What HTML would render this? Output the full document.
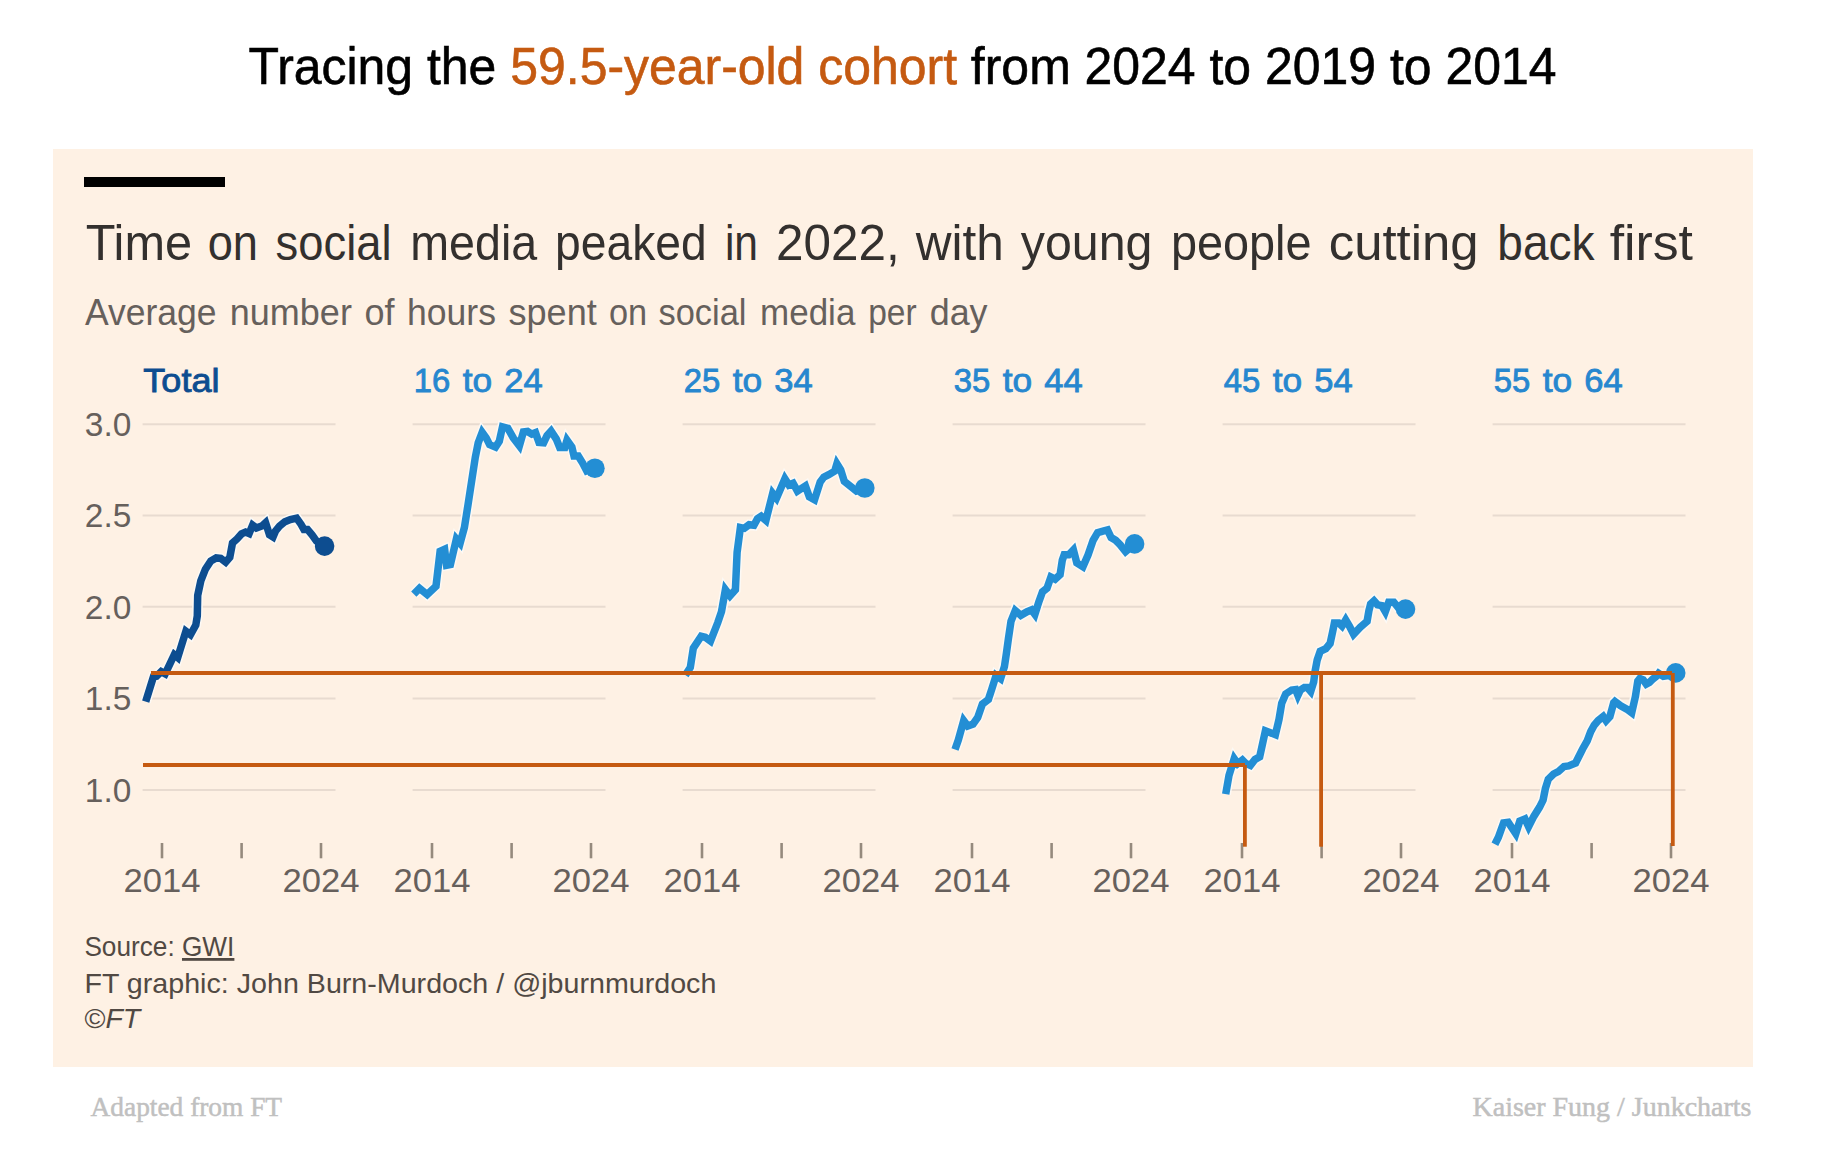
<!DOCTYPE html>
<html><head><meta charset="utf-8"><title>Tracing the 59.5-year-old cohort</title>
<style>html,body{margin:0;padding:0;background:#fff;width:1836px;height:1162px;overflow:hidden}svg{display:block}</style>
</head><body>
<svg width="1836" height="1162" viewBox="0 0 1836 1162">
<rect x="0" y="0" width="1836" height="1162" fill="#ffffff"/>
<text x="248.5" y="84" font-family='"Liberation Sans", sans-serif' font-size="52" fill="#000" stroke="#000" stroke-width="0.6" textLength="1308" lengthAdjust="spacingAndGlyphs">Tracing the <tspan fill="#c55a11" stroke="#c55a11">59.5-year-old cohort</tspan> from 2024 to 2019 to 2014</text>
<rect x="53" y="149" width="1700" height="918" fill="#fef1e4"/>
<rect x="84" y="177" width="141" height="10" fill="#000"/>
<text x="85.7" y="260" font-family='"Liberation Sans", sans-serif' font-size="50" fill="#33302e" font-weight="normal" font-style="normal" text-anchor="start" textLength="106.4" lengthAdjust="spacingAndGlyphs">Time</text>
<text x="207.7" y="260" font-family='"Liberation Sans", sans-serif' font-size="50" fill="#33302e" font-weight="normal" font-style="normal" text-anchor="start" textLength="50.31" lengthAdjust="spacingAndGlyphs">on</text>
<text x="275.6" y="260" font-family='"Liberation Sans", sans-serif' font-size="50" fill="#33302e" font-weight="normal" font-style="normal" text-anchor="start" textLength="115.98" lengthAdjust="spacingAndGlyphs">social</text>
<text x="410.3" y="260" font-family='"Liberation Sans", sans-serif' font-size="50" fill="#33302e" font-weight="normal" font-style="normal" text-anchor="start" textLength="126.94" lengthAdjust="spacingAndGlyphs">media</text>
<text x="555.1" y="260" font-family='"Liberation Sans", sans-serif' font-size="50" fill="#33302e" font-weight="normal" font-style="normal" text-anchor="start" textLength="151.49" lengthAdjust="spacingAndGlyphs">peaked</text>
<text x="724.9" y="260" font-family='"Liberation Sans", sans-serif' font-size="50" fill="#33302e" font-weight="normal" font-style="normal" text-anchor="start" textLength="33.11" lengthAdjust="spacingAndGlyphs">in</text>
<text x="776.0" y="260" font-family='"Liberation Sans", sans-serif' font-size="50" fill="#33302e" font-weight="normal" font-style="normal" text-anchor="start" textLength="123.62" lengthAdjust="spacingAndGlyphs">2022,</text>
<text x="915.7" y="260" font-family='"Liberation Sans", sans-serif' font-size="50" fill="#33302e" font-weight="normal" font-style="normal" text-anchor="start" textLength="88.02" lengthAdjust="spacingAndGlyphs">with</text>
<text x="1020.8" y="260" font-family='"Liberation Sans", sans-serif' font-size="50" fill="#33302e" font-weight="normal" font-style="normal" text-anchor="start" textLength="131.58" lengthAdjust="spacingAndGlyphs">young</text>
<text x="1170.9" y="260" font-family='"Liberation Sans", sans-serif' font-size="50" fill="#33302e" font-weight="normal" font-style="normal" text-anchor="start" textLength="140.7" lengthAdjust="spacingAndGlyphs">people</text>
<text x="1328.7" y="260" font-family='"Liberation Sans", sans-serif' font-size="50" fill="#33302e" font-weight="normal" font-style="normal" text-anchor="start" textLength="149.92" lengthAdjust="spacingAndGlyphs">cutting</text>
<text x="1497.3" y="260" font-family='"Liberation Sans", sans-serif' font-size="50" fill="#33302e" font-weight="normal" font-style="normal" text-anchor="start" textLength="97.22" lengthAdjust="spacingAndGlyphs">back</text>
<text x="1609.7" y="260" font-family='"Liberation Sans", sans-serif' font-size="50" fill="#33302e" font-weight="normal" font-style="normal" text-anchor="start" textLength="83.29" lengthAdjust="spacingAndGlyphs">first</text>
<text x="85.0" y="324.5" font-family='"Liberation Sans", sans-serif' font-size="36.5" fill="#66605c" font-weight="normal" font-style="normal" text-anchor="start" textLength="131.59" lengthAdjust="spacingAndGlyphs">Average</text>
<text x="229.8" y="324.5" font-family='"Liberation Sans", sans-serif' font-size="36.5" fill="#66605c" font-weight="normal" font-style="normal" text-anchor="start" textLength="122.09" lengthAdjust="spacingAndGlyphs">number</text>
<text x="364.4" y="324.5" font-family='"Liberation Sans", sans-serif' font-size="36.5" fill="#66605c" font-weight="normal" font-style="normal" text-anchor="start" textLength="30.03" lengthAdjust="spacingAndGlyphs">of</text>
<text x="407.0" y="324.5" font-family='"Liberation Sans", sans-serif' font-size="36.5" fill="#66605c" font-weight="normal" font-style="normal" text-anchor="start" textLength="88.92" lengthAdjust="spacingAndGlyphs">hours</text>
<text x="508.5" y="324.5" font-family='"Liberation Sans", sans-serif' font-size="36.5" fill="#66605c" font-weight="normal" font-style="normal" text-anchor="start" textLength="88.21" lengthAdjust="spacingAndGlyphs">spent</text>
<text x="608.9" y="324.5" font-family='"Liberation Sans", sans-serif' font-size="36.5" fill="#66605c" font-weight="normal" font-style="normal" text-anchor="start" textLength="38.21" lengthAdjust="spacingAndGlyphs">on</text>
<text x="658.5" y="324.5" font-family='"Liberation Sans", sans-serif' font-size="36.5" fill="#66605c" font-weight="normal" font-style="normal" text-anchor="start" textLength="87.99" lengthAdjust="spacingAndGlyphs">social</text>
<text x="760.1" y="324.5" font-family='"Liberation Sans", sans-serif' font-size="36.5" fill="#66605c" font-weight="normal" font-style="normal" text-anchor="start" textLength="95.25" lengthAdjust="spacingAndGlyphs">media</text>
<text x="868.2" y="324.5" font-family='"Liberation Sans", sans-serif' font-size="36.5" fill="#66605c" font-weight="normal" font-style="normal" text-anchor="start" textLength="48.51" lengthAdjust="spacingAndGlyphs">per</text>
<text x="929.7" y="324.5" font-family='"Liberation Sans", sans-serif' font-size="36.5" fill="#66605c" font-weight="normal" font-style="normal" text-anchor="start" textLength="57.81" lengthAdjust="spacingAndGlyphs">day</text>
<text x="143.3" y="392.3" font-family='"Liberation Sans", sans-serif' font-size="34" fill="#0d4d90" font-weight="normal" font-style="normal" text-anchor="start" textLength="76.21" lengthAdjust="spacingAndGlyphs" stroke="#0d4d90" stroke-width="0.85">Total</text>
<line x1="142.6" y1="424.2" x2="335.5" y2="424.2" stroke="#e8dbd0" stroke-width="2"/>
<line x1="142.6" y1="515.4" x2="335.5" y2="515.4" stroke="#e8dbd0" stroke-width="2"/>
<line x1="142.6" y1="606.8" x2="335.5" y2="606.8" stroke="#e8dbd0" stroke-width="2"/>
<line x1="142.6" y1="698.5" x2="335.5" y2="698.5" stroke="#e8dbd0" stroke-width="2"/>
<line x1="142.6" y1="789.9" x2="335.5" y2="789.9" stroke="#e8dbd0" stroke-width="2"/>
<line x1="162" y1="843" x2="162" y2="858.3" stroke="#958a7d" stroke-width="2.6"/>
<line x1="241.6" y1="843" x2="241.6" y2="858.3" stroke="#958a7d" stroke-width="2.6"/>
<line x1="321" y1="843" x2="321" y2="858.3" stroke="#958a7d" stroke-width="2.6"/>
<text x="162" y="892" font-family='"Liberation Sans", sans-serif' font-size="33" fill="#66605c" font-weight="normal" font-style="normal" text-anchor="middle" textLength="77" lengthAdjust="spacingAndGlyphs">2014</text>
<text x="321" y="892" font-family='"Liberation Sans", sans-serif' font-size="33" fill="#66605c" font-weight="normal" font-style="normal" text-anchor="middle" textLength="77" lengthAdjust="spacingAndGlyphs">2024</text>
<text x="413.8" y="392.3" font-family='"Liberation Sans", sans-serif' font-size="34" fill="#2787cf" font-weight="normal" font-style="normal" text-anchor="start" textLength="36.51" lengthAdjust="spacingAndGlyphs" stroke="#2787cf" stroke-width="0.85">16</text>
<text x="462.8" y="392.3" font-family='"Liberation Sans", sans-serif' font-size="34" fill="#2787cf" font-weight="normal" font-style="normal" text-anchor="start" textLength="29.4" lengthAdjust="spacingAndGlyphs" stroke="#2787cf" stroke-width="0.85">to</text>
<text x="504.2" y="392.3" font-family='"Liberation Sans", sans-serif' font-size="34" fill="#2787cf" font-weight="normal" font-style="normal" text-anchor="start" textLength="38.41" lengthAdjust="spacingAndGlyphs" stroke="#2787cf" stroke-width="0.85">24</text>
<line x1="412.6" y1="424.2" x2="605.5" y2="424.2" stroke="#e8dbd0" stroke-width="2"/>
<line x1="412.6" y1="515.4" x2="605.5" y2="515.4" stroke="#e8dbd0" stroke-width="2"/>
<line x1="412.6" y1="606.8" x2="605.5" y2="606.8" stroke="#e8dbd0" stroke-width="2"/>
<line x1="412.6" y1="698.5" x2="605.5" y2="698.5" stroke="#e8dbd0" stroke-width="2"/>
<line x1="412.6" y1="789.9" x2="605.5" y2="789.9" stroke="#e8dbd0" stroke-width="2"/>
<line x1="432" y1="843" x2="432" y2="858.3" stroke="#958a7d" stroke-width="2.6"/>
<line x1="511.6" y1="843" x2="511.6" y2="858.3" stroke="#958a7d" stroke-width="2.6"/>
<line x1="591" y1="843" x2="591" y2="858.3" stroke="#958a7d" stroke-width="2.6"/>
<text x="432" y="892" font-family='"Liberation Sans", sans-serif' font-size="33" fill="#66605c" font-weight="normal" font-style="normal" text-anchor="middle" textLength="77" lengthAdjust="spacingAndGlyphs">2014</text>
<text x="591" y="892" font-family='"Liberation Sans", sans-serif' font-size="33" fill="#66605c" font-weight="normal" font-style="normal" text-anchor="middle" textLength="77" lengthAdjust="spacingAndGlyphs">2024</text>
<text x="683.8" y="392.3" font-family='"Liberation Sans", sans-serif' font-size="34" fill="#2787cf" font-weight="normal" font-style="normal" text-anchor="start" textLength="36.51" lengthAdjust="spacingAndGlyphs" stroke="#2787cf" stroke-width="0.85">25</text>
<text x="732.8" y="392.3" font-family='"Liberation Sans", sans-serif' font-size="34" fill="#2787cf" font-weight="normal" font-style="normal" text-anchor="start" textLength="29.4" lengthAdjust="spacingAndGlyphs" stroke="#2787cf" stroke-width="0.85">to</text>
<text x="774.2" y="392.3" font-family='"Liberation Sans", sans-serif' font-size="34" fill="#2787cf" font-weight="normal" font-style="normal" text-anchor="start" textLength="38.41" lengthAdjust="spacingAndGlyphs" stroke="#2787cf" stroke-width="0.85">34</text>
<line x1="682.6" y1="424.2" x2="875.5" y2="424.2" stroke="#e8dbd0" stroke-width="2"/>
<line x1="682.6" y1="515.4" x2="875.5" y2="515.4" stroke="#e8dbd0" stroke-width="2"/>
<line x1="682.6" y1="606.8" x2="875.5" y2="606.8" stroke="#e8dbd0" stroke-width="2"/>
<line x1="682.6" y1="698.5" x2="875.5" y2="698.5" stroke="#e8dbd0" stroke-width="2"/>
<line x1="682.6" y1="789.9" x2="875.5" y2="789.9" stroke="#e8dbd0" stroke-width="2"/>
<line x1="702" y1="843" x2="702" y2="858.3" stroke="#958a7d" stroke-width="2.6"/>
<line x1="781.6" y1="843" x2="781.6" y2="858.3" stroke="#958a7d" stroke-width="2.6"/>
<line x1="861" y1="843" x2="861" y2="858.3" stroke="#958a7d" stroke-width="2.6"/>
<text x="702" y="892" font-family='"Liberation Sans", sans-serif' font-size="33" fill="#66605c" font-weight="normal" font-style="normal" text-anchor="middle" textLength="77" lengthAdjust="spacingAndGlyphs">2014</text>
<text x="861" y="892" font-family='"Liberation Sans", sans-serif' font-size="33" fill="#66605c" font-weight="normal" font-style="normal" text-anchor="middle" textLength="77" lengthAdjust="spacingAndGlyphs">2024</text>
<text x="953.8" y="392.3" font-family='"Liberation Sans", sans-serif' font-size="34" fill="#2787cf" font-weight="normal" font-style="normal" text-anchor="start" textLength="36.51" lengthAdjust="spacingAndGlyphs" stroke="#2787cf" stroke-width="0.85">35</text>
<text x="1002.8" y="392.3" font-family='"Liberation Sans", sans-serif' font-size="34" fill="#2787cf" font-weight="normal" font-style="normal" text-anchor="start" textLength="29.4" lengthAdjust="spacingAndGlyphs" stroke="#2787cf" stroke-width="0.85">to</text>
<text x="1044.2" y="392.3" font-family='"Liberation Sans", sans-serif' font-size="34" fill="#2787cf" font-weight="normal" font-style="normal" text-anchor="start" textLength="38.41" lengthAdjust="spacingAndGlyphs" stroke="#2787cf" stroke-width="0.85">44</text>
<line x1="952.6" y1="424.2" x2="1145.5" y2="424.2" stroke="#e8dbd0" stroke-width="2"/>
<line x1="952.6" y1="515.4" x2="1145.5" y2="515.4" stroke="#e8dbd0" stroke-width="2"/>
<line x1="952.6" y1="606.8" x2="1145.5" y2="606.8" stroke="#e8dbd0" stroke-width="2"/>
<line x1="952.6" y1="698.5" x2="1145.5" y2="698.5" stroke="#e8dbd0" stroke-width="2"/>
<line x1="952.6" y1="789.9" x2="1145.5" y2="789.9" stroke="#e8dbd0" stroke-width="2"/>
<line x1="972" y1="843" x2="972" y2="858.3" stroke="#958a7d" stroke-width="2.6"/>
<line x1="1051.6" y1="843" x2="1051.6" y2="858.3" stroke="#958a7d" stroke-width="2.6"/>
<line x1="1131" y1="843" x2="1131" y2="858.3" stroke="#958a7d" stroke-width="2.6"/>
<text x="972" y="892" font-family='"Liberation Sans", sans-serif' font-size="33" fill="#66605c" font-weight="normal" font-style="normal" text-anchor="middle" textLength="77" lengthAdjust="spacingAndGlyphs">2014</text>
<text x="1131" y="892" font-family='"Liberation Sans", sans-serif' font-size="33" fill="#66605c" font-weight="normal" font-style="normal" text-anchor="middle" textLength="77" lengthAdjust="spacingAndGlyphs">2024</text>
<text x="1223.8" y="392.3" font-family='"Liberation Sans", sans-serif' font-size="34" fill="#2787cf" font-weight="normal" font-style="normal" text-anchor="start" textLength="36.51" lengthAdjust="spacingAndGlyphs" stroke="#2787cf" stroke-width="0.85">45</text>
<text x="1272.8" y="392.3" font-family='"Liberation Sans", sans-serif' font-size="34" fill="#2787cf" font-weight="normal" font-style="normal" text-anchor="start" textLength="29.4" lengthAdjust="spacingAndGlyphs" stroke="#2787cf" stroke-width="0.85">to</text>
<text x="1314.2" y="392.3" font-family='"Liberation Sans", sans-serif' font-size="34" fill="#2787cf" font-weight="normal" font-style="normal" text-anchor="start" textLength="38.41" lengthAdjust="spacingAndGlyphs" stroke="#2787cf" stroke-width="0.85">54</text>
<line x1="1222.6" y1="424.2" x2="1415.5" y2="424.2" stroke="#e8dbd0" stroke-width="2"/>
<line x1="1222.6" y1="515.4" x2="1415.5" y2="515.4" stroke="#e8dbd0" stroke-width="2"/>
<line x1="1222.6" y1="606.8" x2="1415.5" y2="606.8" stroke="#e8dbd0" stroke-width="2"/>
<line x1="1222.6" y1="698.5" x2="1415.5" y2="698.5" stroke="#e8dbd0" stroke-width="2"/>
<line x1="1222.6" y1="789.9" x2="1415.5" y2="789.9" stroke="#e8dbd0" stroke-width="2"/>
<line x1="1242" y1="843" x2="1242" y2="858.3" stroke="#958a7d" stroke-width="2.6"/>
<line x1="1321.6" y1="843" x2="1321.6" y2="858.3" stroke="#958a7d" stroke-width="2.6"/>
<line x1="1401" y1="843" x2="1401" y2="858.3" stroke="#958a7d" stroke-width="2.6"/>
<text x="1242" y="892" font-family='"Liberation Sans", sans-serif' font-size="33" fill="#66605c" font-weight="normal" font-style="normal" text-anchor="middle" textLength="77" lengthAdjust="spacingAndGlyphs">2014</text>
<text x="1401" y="892" font-family='"Liberation Sans", sans-serif' font-size="33" fill="#66605c" font-weight="normal" font-style="normal" text-anchor="middle" textLength="77" lengthAdjust="spacingAndGlyphs">2024</text>
<text x="1493.8" y="392.3" font-family='"Liberation Sans", sans-serif' font-size="34" fill="#2787cf" font-weight="normal" font-style="normal" text-anchor="start" textLength="36.51" lengthAdjust="spacingAndGlyphs" stroke="#2787cf" stroke-width="0.85">55</text>
<text x="1542.8" y="392.3" font-family='"Liberation Sans", sans-serif' font-size="34" fill="#2787cf" font-weight="normal" font-style="normal" text-anchor="start" textLength="29.4" lengthAdjust="spacingAndGlyphs" stroke="#2787cf" stroke-width="0.85">to</text>
<text x="1584.2" y="392.3" font-family='"Liberation Sans", sans-serif' font-size="34" fill="#2787cf" font-weight="normal" font-style="normal" text-anchor="start" textLength="38.41" lengthAdjust="spacingAndGlyphs" stroke="#2787cf" stroke-width="0.85">64</text>
<line x1="1492.6" y1="424.2" x2="1685.5" y2="424.2" stroke="#e8dbd0" stroke-width="2"/>
<line x1="1492.6" y1="515.4" x2="1685.5" y2="515.4" stroke="#e8dbd0" stroke-width="2"/>
<line x1="1492.6" y1="606.8" x2="1685.5" y2="606.8" stroke="#e8dbd0" stroke-width="2"/>
<line x1="1492.6" y1="698.5" x2="1685.5" y2="698.5" stroke="#e8dbd0" stroke-width="2"/>
<line x1="1492.6" y1="789.9" x2="1685.5" y2="789.9" stroke="#e8dbd0" stroke-width="2"/>
<line x1="1512" y1="843" x2="1512" y2="858.3" stroke="#958a7d" stroke-width="2.6"/>
<line x1="1591.6" y1="843" x2="1591.6" y2="858.3" stroke="#958a7d" stroke-width="2.6"/>
<line x1="1671" y1="843" x2="1671" y2="858.3" stroke="#958a7d" stroke-width="2.6"/>
<text x="1512" y="892" font-family='"Liberation Sans", sans-serif' font-size="33" fill="#66605c" font-weight="normal" font-style="normal" text-anchor="middle" textLength="77" lengthAdjust="spacingAndGlyphs">2014</text>
<text x="1671" y="892" font-family='"Liberation Sans", sans-serif' font-size="33" fill="#66605c" font-weight="normal" font-style="normal" text-anchor="middle" textLength="77" lengthAdjust="spacingAndGlyphs">2024</text>
<text x="84.8" y="436.0" font-family='"Liberation Sans", sans-serif' font-size="33" fill="#66605c" font-weight="normal" font-style="normal" text-anchor="start" textLength="46.5" lengthAdjust="spacingAndGlyphs">3.0</text>
<text x="84.8" y="527.1999999999999" font-family='"Liberation Sans", sans-serif' font-size="33" fill="#66605c" font-weight="normal" font-style="normal" text-anchor="start" textLength="46.5" lengthAdjust="spacingAndGlyphs">2.5</text>
<text x="84.8" y="618.5999999999999" font-family='"Liberation Sans", sans-serif' font-size="33" fill="#66605c" font-weight="normal" font-style="normal" text-anchor="start" textLength="46.5" lengthAdjust="spacingAndGlyphs">2.0</text>
<text x="84.8" y="710.3" font-family='"Liberation Sans", sans-serif' font-size="33" fill="#66605c" font-weight="normal" font-style="normal" text-anchor="start" textLength="46.5" lengthAdjust="spacingAndGlyphs">1.5</text>
<text x="84.8" y="801.6999999999999" font-family='"Liberation Sans", sans-serif' font-size="33" fill="#66605c" font-weight="normal" font-style="normal" text-anchor="start" textLength="46.5" lengthAdjust="spacingAndGlyphs">1.0</text>
<polyline points="145.7,701.6 153.4,676.8 156.5,676.3 161.2,671.6 165.2,673.8 174.3,654.7 177.7,657.5 185.9,631.2 190.5,634.7 195.8,625.1 197.3,615.8 197.7,595.4 200.8,580.9 205.4,569.2 210.8,561.0 216.2,557.9 220.7,558.3 225.7,562.2 229.8,557.4 232.5,543.0 237.0,538.9 241.5,533.9 245.6,532.1 249.1,533.6 252.6,525.1 256.4,528.0 262.3,525.8 265.6,522.7 269.5,534.8 273.0,537.0 275.4,531.2 279.5,526.2 284.9,521.7 290.3,519.5 296.6,518.1 301.1,524.4 303.9,529.4 307.5,529.4 312.0,534.8 316.5,541.1 323.7,546.1" fill="none" stroke="#fcf9f5" stroke-width="10.5" stroke-linejoin="miter" stroke-miterlimit="10" stroke-linecap="butt"/>
<polyline points="145.7,701.6 153.4,676.8 156.5,676.3 161.2,671.6 165.2,673.8 174.3,654.7 177.7,657.5 185.9,631.2 190.5,634.7 195.8,625.1 197.3,615.8 197.7,595.4 200.8,580.9 205.4,569.2 210.8,561.0 216.2,557.9 220.7,558.3 225.7,562.2 229.8,557.4 232.5,543.0 237.0,538.9 241.5,533.9 245.6,532.1 249.1,533.6 252.6,525.1 256.4,528.0 262.3,525.8 265.6,522.7 269.5,534.8 273.0,537.0 275.4,531.2 279.5,526.2 284.9,521.7 290.3,519.5 296.6,518.1 301.1,524.4 303.9,529.4 307.5,529.4 312.0,534.8 316.5,541.1 323.7,546.1" fill="none" stroke="#0d4d90" stroke-width="7.5" stroke-linejoin="miter" stroke-miterlimit="10" stroke-linecap="butt"/>
<circle cx="324.6" cy="546.1" r="9.8" fill="#0d4d90"/>
<polyline points="413.8,594.1 419.5,588.4 427.2,594.6 436.0,586.3 440.1,551.2 444.6,549.2 446.6,565.3 450.4,564.6 456.4,539.0 460.1,543.2 464.4,527.5 468.0,504.8 475.3,457.3 478.2,442.9 482.2,432.4 486.2,437.9 489.6,444.6 495.5,447.1 499.3,441.2 502.5,426.8 507.8,428.2 513.3,437.9 519.4,445.9 523.4,432.0 527.6,431.5 531.8,434.1 535.5,432.7 539.0,442.5 543.6,442.9 547.0,435.7 551.1,431.1 556.3,439.1 559.7,447.6 564.8,447.6 567.0,440.2 571.9,447.1 574.0,456.0 578.3,456.0 582.5,462.8 586.7,470.8 593.5,468.3" fill="none" stroke="#fcf9f5" stroke-width="10.5" stroke-linejoin="miter" stroke-miterlimit="10" stroke-linecap="butt"/>
<polyline points="413.8,594.1 419.5,588.4 427.2,594.6 436.0,586.3 440.1,551.2 444.6,549.2 446.6,565.3 450.4,564.6 456.4,539.0 460.1,543.2 464.4,527.5 468.0,504.8 475.3,457.3 478.2,442.9 482.2,432.4 486.2,437.9 489.6,444.6 495.5,447.1 499.3,441.2 502.5,426.8 507.8,428.2 513.3,437.9 519.4,445.9 523.4,432.0 527.6,431.5 531.8,434.1 535.5,432.7 539.0,442.5 543.6,442.9 547.0,435.7 551.1,431.1 556.3,439.1 559.7,447.6 564.8,447.6 567.0,440.2 571.9,447.1 574.0,456.0 578.3,456.0 582.5,462.8 586.7,470.8 593.5,468.3" fill="none" stroke="#238ed4" stroke-width="7.5" stroke-linejoin="miter" stroke-miterlimit="10" stroke-linecap="butt"/>
<circle cx="594.9" cy="468.3" r="9.8" fill="#238ed4"/>
<polyline points="685.4,675.1 690.3,667.5 693.3,648.2 701.2,636.3 705.2,637.3 710.5,641.1 717.8,622.5 721.5,611.6 725.4,589.7 730.0,595.8 735.4,589.8 737.1,552.4 740.4,527.5 744.3,528.3 749.1,524.7 753.9,525.3 757.5,518.7 761.2,516.3 765.9,520.4 772.7,493.3 776.5,498.2 784.9,478.8 788.9,485.0 793.1,483.2 797.4,491.1 805.4,485.9 809.4,497.0 814.5,499.8 820.2,481.9 823.8,477.1 828.7,474.7 834.7,471.1 836.9,463.8 840.7,469.9 844.3,481.3 850.3,486.2 856.4,491.0 864.8,488.0" fill="none" stroke="#fcf9f5" stroke-width="10.5" stroke-linejoin="miter" stroke-miterlimit="10" stroke-linecap="butt"/>
<polyline points="685.4,675.1 690.3,667.5 693.3,648.2 701.2,636.3 705.2,637.3 710.5,641.1 717.8,622.5 721.5,611.6 725.4,589.7 730.0,595.8 735.4,589.8 737.1,552.4 740.4,527.5 744.3,528.3 749.1,524.7 753.9,525.3 757.5,518.7 761.2,516.3 765.9,520.4 772.7,493.3 776.5,498.2 784.9,478.8 788.9,485.0 793.1,483.2 797.4,491.1 805.4,485.9 809.4,497.0 814.5,499.8 820.2,481.9 823.8,477.1 828.7,474.7 834.7,471.1 836.9,463.8 840.7,469.9 844.3,481.3 850.3,486.2 856.4,491.0 864.8,488.0" fill="none" stroke="#238ed4" stroke-width="7.5" stroke-linejoin="miter" stroke-miterlimit="10" stroke-linecap="butt"/>
<circle cx="864.8" cy="488.0" r="9.8" fill="#238ed4"/>
<polyline points="955.0,749.4 958.3,740.1 963.7,720.7 967.7,726.1 973.0,724.1 977.7,717.4 982.4,704.1 988.4,699.4 991.7,689.4 996.1,675.4 1000.6,678.7 1004.4,666.7 1006.4,653.4 1008.4,638.7 1011.0,621.3 1015.3,610.5 1020.8,615.3 1027.1,611.7 1031.6,609.9 1034.9,614.3 1038.9,601.7 1042.5,591.8 1047.0,588.2 1050.9,577.1 1055.1,579.2 1060.1,574.6 1062.3,560.2 1064.2,554.8 1068.7,554.8 1073.4,549.9 1076.8,562.9 1082.9,566.7 1088.1,554.8 1093.1,540.3 1097.6,532.6 1102.1,531.3 1107.5,529.9 1111.1,537.6 1115.7,540.3 1120.2,544.8 1125.6,551.6 1134.6,543.9" fill="none" stroke="#fcf9f5" stroke-width="10.5" stroke-linejoin="miter" stroke-miterlimit="10" stroke-linecap="butt"/>
<polyline points="955.0,749.4 958.3,740.1 963.7,720.7 967.7,726.1 973.0,724.1 977.7,717.4 982.4,704.1 988.4,699.4 991.7,689.4 996.1,675.4 1000.6,678.7 1004.4,666.7 1006.4,653.4 1008.4,638.7 1011.0,621.3 1015.3,610.5 1020.8,615.3 1027.1,611.7 1031.6,609.9 1034.9,614.3 1038.9,601.7 1042.5,591.8 1047.0,588.2 1050.9,577.1 1055.1,579.2 1060.1,574.6 1062.3,560.2 1064.2,554.8 1068.7,554.8 1073.4,549.9 1076.8,562.9 1082.9,566.7 1088.1,554.8 1093.1,540.3 1097.6,532.6 1102.1,531.3 1107.5,529.9 1111.1,537.6 1115.7,540.3 1120.2,544.8 1125.6,551.6 1134.6,543.9" fill="none" stroke="#238ed4" stroke-width="7.5" stroke-linejoin="miter" stroke-miterlimit="10" stroke-linecap="butt"/>
<circle cx="1134.6" cy="543.9" r="9.8" fill="#238ed4"/>
<polyline points="1225.7,794.1 1229.0,775.4 1234.2,758.7 1237.7,763.7 1242.4,760.1 1245.7,763.4 1250.4,765.4 1255.0,759.4 1259.7,756.7 1265.4,730.8 1270.4,732.7 1275.4,734.7 1279.0,719.4 1281.7,703.4 1285.7,694.0 1291.7,690.0 1295.6,689.5 1297.9,695.4 1300.4,690.0 1304.4,687.4 1307.1,687.4 1310.7,691.5 1313.7,682.0 1315.1,671.1 1317.2,659.9 1320.2,651.3 1325.8,648.7 1330.1,643.5 1332.7,631.5 1334.4,622.9 1338.7,622.9 1342.0,626.1 1345.7,619.8 1349.5,626.3 1353.6,634.3 1360.3,627.2 1367.1,621.2 1368.9,610.8 1370.6,603.9 1374.0,600.8 1377.5,604.8 1381.8,605.7 1385.3,611.7 1388.7,602.2 1393.8,602.2 1398.1,607.4 1405.0,609.1" fill="none" stroke="#fcf9f5" stroke-width="10.5" stroke-linejoin="miter" stroke-miterlimit="10" stroke-linecap="butt"/>
<polyline points="1225.7,794.1 1229.0,775.4 1234.2,758.7 1237.7,763.7 1242.4,760.1 1245.7,763.4 1250.4,765.4 1255.0,759.4 1259.7,756.7 1265.4,730.8 1270.4,732.7 1275.4,734.7 1279.0,719.4 1281.7,703.4 1285.7,694.0 1291.7,690.0 1295.6,689.5 1297.9,695.4 1300.4,690.0 1304.4,687.4 1307.1,687.4 1310.7,691.5 1313.7,682.0 1315.1,671.1 1317.2,659.9 1320.2,651.3 1325.8,648.7 1330.1,643.5 1332.7,631.5 1334.4,622.9 1338.7,622.9 1342.0,626.1 1345.7,619.8 1349.5,626.3 1353.6,634.3 1360.3,627.2 1367.1,621.2 1368.9,610.8 1370.6,603.9 1374.0,600.8 1377.5,604.8 1381.8,605.7 1385.3,611.7 1388.7,602.2 1393.8,602.2 1398.1,607.4 1405.0,609.1" fill="none" stroke="#238ed4" stroke-width="7.5" stroke-linejoin="miter" stroke-miterlimit="10" stroke-linecap="butt"/>
<circle cx="1405.5" cy="609.1" r="9.8" fill="#238ed4"/>
<polyline points="1494.9,844.3 1498.4,837.3 1503.6,822.8 1508.2,822.2 1515.8,833.7 1519.8,821.1 1525.0,818.9 1528.6,826.7 1533.8,816.4 1539.6,807.1 1543.1,800.1 1545.4,788.5 1548.3,779.2 1553.5,774.0 1558.2,771.7 1564.0,766.5 1568.6,765.9 1575.6,763.0 1579.1,756.0 1582.6,749.0 1587.2,740.9 1590.7,731.6 1594.2,725.2 1598.2,720.5 1603.2,716.5 1606.1,720.8 1609.9,716.6 1613.7,702.7 1614.9,701.5 1620.7,705.8 1627.7,709.7 1631.7,712.7 1635.4,696.5 1637.8,681.0 1639.8,678.5 1643.2,679.8 1646.3,684.1 1649.4,682.5 1652.5,679.4 1657.1,675.6 1658.7,673.3 1663.3,676.3 1668.0,675.6 1675.7,672.9" fill="none" stroke="#fcf9f5" stroke-width="10.5" stroke-linejoin="miter" stroke-miterlimit="10" stroke-linecap="butt"/>
<polyline points="1494.9,844.3 1498.4,837.3 1503.6,822.8 1508.2,822.2 1515.8,833.7 1519.8,821.1 1525.0,818.9 1528.6,826.7 1533.8,816.4 1539.6,807.1 1543.1,800.1 1545.4,788.5 1548.3,779.2 1553.5,774.0 1558.2,771.7 1564.0,766.5 1568.6,765.9 1575.6,763.0 1579.1,756.0 1582.6,749.0 1587.2,740.9 1590.7,731.6 1594.2,725.2 1598.2,720.5 1603.2,716.5 1606.1,720.8 1609.9,716.6 1613.7,702.7 1614.9,701.5 1620.7,705.8 1627.7,709.7 1631.7,712.7 1635.4,696.5 1637.8,681.0 1639.8,678.5 1643.2,679.8 1646.3,684.1 1649.4,682.5 1652.5,679.4 1657.1,675.6 1658.7,673.3 1663.3,676.3 1668.0,675.6 1675.7,672.9" fill="none" stroke="#238ed4" stroke-width="7.5" stroke-linejoin="miter" stroke-miterlimit="10" stroke-linecap="butt"/>
<circle cx="1675.7" cy="672.9" r="9.8" fill="#238ed4"/>
<rect x="151" y="671" width="1521" height="4" fill="#c55a11"/>
<rect x="143" y="763" width="1102" height="4" fill="#c55a11"/>
<rect x="1243" y="765" width="3.8" height="81.7" fill="#c55a11"/>
<rect x="1319.2" y="673" width="3.8" height="173.7" fill="#c55a11"/>
<rect x="1670.9" y="673" width="3.8" height="173" fill="#c55a11"/>
<text x="84.4" y="956" font-family='"Liberation Sans", sans-serif' font-size="28" fill="#514943" font-weight="normal" font-style="normal" text-anchor="start" textLength="150" lengthAdjust="spacingAndGlyphs">Source: <tspan text-decoration="underline">GWI</tspan></text>
<text x="84.4" y="993" font-family='"Liberation Sans", sans-serif' font-size="28.5" fill="#514943" font-weight="normal" font-style="normal" text-anchor="start" textLength="632" lengthAdjust="spacingAndGlyphs">FT graphic: John Burn-Murdoch / @jburnmurdoch</text>
<text x="84.4" y="1028" font-family='"Liberation Sans", sans-serif' font-size="28.5" fill="#514943" font-weight="normal" font-style="normal" text-anchor="start">©<tspan font-style="italic">FT</tspan></text>
<text x="90.6" y="1116" font-family='"Liberation Serif", serif' font-size="28" fill="#c0c0c0" font-weight="normal" font-style="normal" text-anchor="start" textLength="191.5" lengthAdjust="spacingAndGlyphs" stroke="#c0c0c0" stroke-width="0.5">Adapted from FT</text>
<text x="1472.5" y="1116" font-family='"Liberation Serif", serif' font-size="28" fill="#c0c0c0" font-weight="normal" font-style="normal" text-anchor="start" textLength="279" lengthAdjust="spacingAndGlyphs" stroke="#c0c0c0" stroke-width="0.5">Kaiser Fung / Junkcharts</text>
</svg>
</body></html>
